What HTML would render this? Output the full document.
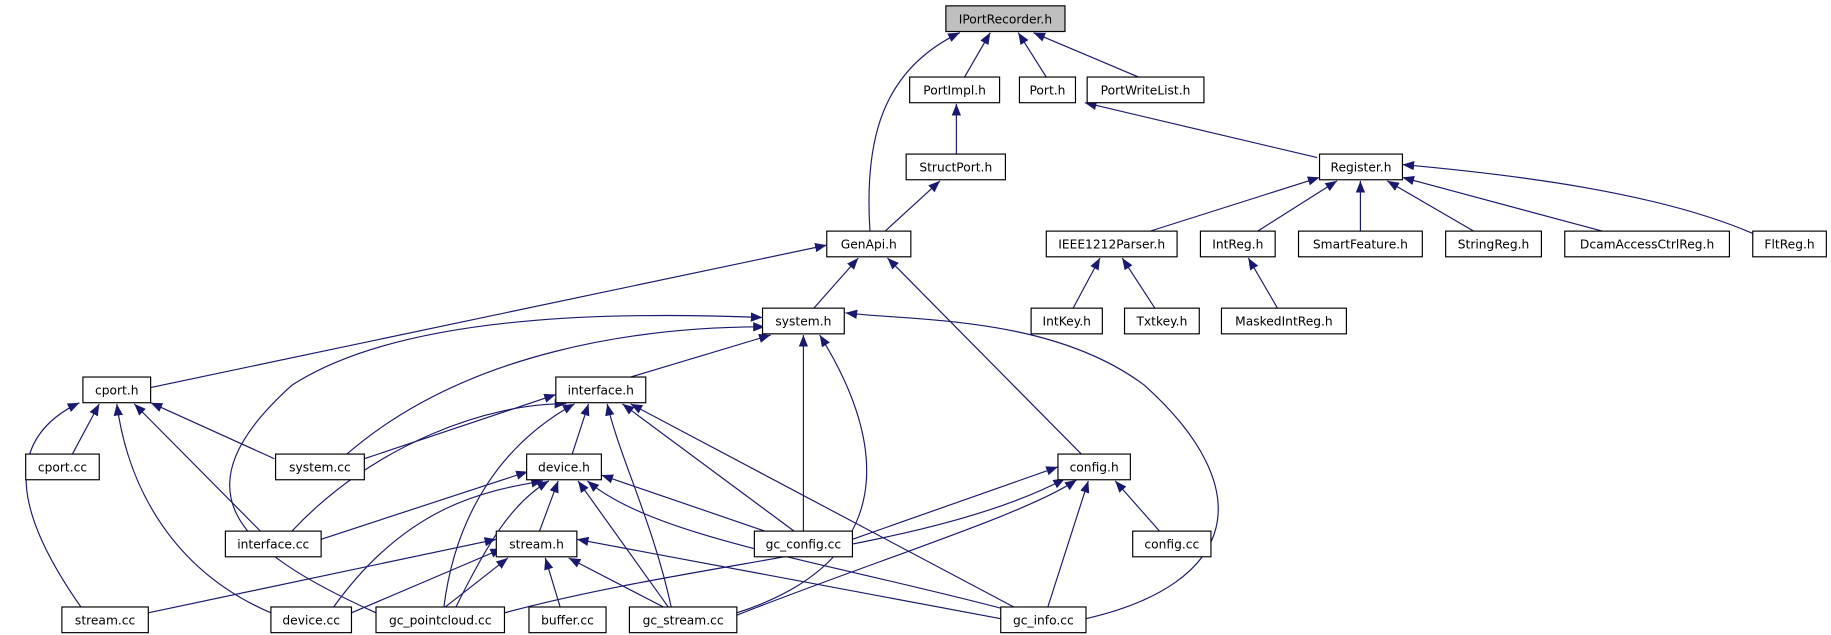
<!DOCTYPE html>
<html><head><meta charset="utf-8"><style>
html,body{margin:0;padding:0;background:#fff;}
svg{display:block;}
text{font-family:"DejaVu Sans","Liberation Sans",sans-serif;font-size:10.5px;fill:#000;}
</style></head><body>
<svg width="1831" height="635" viewBox="0 0 1568 544" preserveAspectRatio="none" xmlns="http://www.w3.org/2000/svg">
<defs>
<marker id="a" viewBox="0 0 10 10" refX="10" refY="5" markerWidth="10" markerHeight="10" markerUnits="userSpaceOnUse" orient="auto">
<path d="M0,1 L10,5 L0,9 z" fill="#191970"/>
</marker>
</defs>
<g fill="none" stroke="#191970" stroke-width="1" marker-end="url(#a)">
<path d="M745,198 C740,120 755,60 822,28"/>
<path d="M826,66 L848,28"/>
<path d="M896,66 L872,28"/>
<path d="M975,66 L885,28"/>
<path d="M819,132 L819,89"/>
<path d="M1128,135 L929,88"/>
<path d="M758,198 L805,155"/>
<path d="M985,198 L1130,152"/>
<path d="M1077,198 L1145,155"/>
<path d="M1165,198 L1165,155"/>
<path d="M1262,198 L1188,155"/>
<path d="M1372,198 L1201,152"/>
<path d="M1501,200 C1420,165 1300,150 1201,141"/>
<path d="M919,264 L942,221"/>
<path d="M989,264 L961,221"/>
<path d="M1094,264 L1069,221"/>
<path d="M697,264 L735,221"/>
<path d="M129,332 L708,210"/>
<path d="M926,389 L760,221"/>
<path d="M540,323 L660,287"/>
<path d="M688,455 L688,287"/>
<path d="M297,389 C400,300 550,280 655,280"/>
<path d="M322,525 C200,470 150,420 250,330 C350,265 550,268 653,272"/>
<path d="M631,525 C770,480 760,380 702,287"/>
<path d="M930,530 C1060,500 1080,420 980,330 C900,270 780,275 724,268"/>
<path d="M62,389 L85,346"/>
<path d="M235,393 L129,345"/>
<path d="M223,455 L115,346"/>
<path d="M70,521 C20,450 -5,380 68,345"/>
<path d="M232,525 C150,490 110,420 100,346"/>
<path d="M312,393 L476,338"/>
<path d="M250,455 C320,380 420,345 485,346"/>
<path d="M490,389 L504,346"/>
<path d="M380,521 C390,440 430,380 492,346"/>
<path d="M575,521 C560,450 530,390 520,346"/>
<path d="M680,455 L533,346"/>
<path d="M870,521 L540,346"/>
<path d="M275,462 L452,404"/>
<path d="M462,455 L478,412"/>
<path d="M285,521 C350,430 420,420 465,412"/>
<path d="M390,521 C420,460 440,430 470,412"/>
<path d="M655,455 L515,407"/>
<path d="M573,521 L495,412"/>
<path d="M857,521 C700,480 560,460 503,412"/>
<path d="M127,525 L425,462"/>
<path d="M301,525 L430,470"/>
<path d="M380,521 L435,478"/>
<path d="M480,521 L467,478"/>
<path d="M570,521 L487,478"/>
<path d="M857,530 L494,462"/>
<path d="M730,462 L906,400"/>
<path d="M432,525 C600,480 800,470 912,410"/>
<path d="M631,527 C750,480 880,440 922,411"/>
<path d="M897,521 L932,412"/>
<path d="M993,455 L955,412"/>
</g>
<g stroke="#000" stroke-width="1" fill="#fff">
<rect x="810" y="5" width="102" height="22" fill="#bfbfbf"/>
<rect x="779" y="66" width="77" height="22"/>
<rect x="873" y="66" width="48" height="22"/>
<rect x="931" y="66" width="100" height="22"/>
<rect x="776" y="132" width="85" height="22"/>
<rect x="1130" y="132" width="71" height="22"/>
<rect x="708" y="198" width="72" height="22"/>
<rect x="896" y="198" width="112" height="22"/>
<rect x="1028" y="198" width="64" height="22"/>
<rect x="1112" y="198" width="106" height="22"/>
<rect x="1238" y="198" width="82" height="22"/>
<rect x="1340" y="198" width="141" height="22"/>
<rect x="1501" y="198" width="63" height="22"/>
<rect x="883" y="264" width="61" height="22"/>
<rect x="963" y="264" width="64" height="22"/>
<rect x="1046" y="264" width="107" height="22"/>
<rect x="653" y="264" width="70" height="22"/>
<rect x="71" y="323" width="58" height="22"/>
<rect x="476" y="323" width="77" height="22"/>
<rect x="22" y="389" width="63" height="22"/>
<rect x="236" y="389" width="76" height="22"/>
<rect x="451" y="389" width="64" height="22"/>
<rect x="906" y="389" width="62" height="22"/>
<rect x="193" y="455" width="82" height="22"/>
<rect x="425" y="455" width="69" height="22"/>
<rect x="646" y="455" width="84" height="22"/>
<rect x="970" y="455" width="67" height="22"/>
<rect x="53" y="520" width="74" height="22"/>
<rect x="232" y="520" width="69" height="22"/>
<rect x="322" y="520" width="110" height="22"/>
<rect x="453" y="520" width="66" height="22"/>
<rect x="539" y="520" width="92" height="22"/>
<rect x="857" y="520" width="73" height="22"/>
</g>
<g text-anchor="middle">
<text x="861" y="20">IPortRecorder.h</text>
<text x="817.5" y="81">PortImpl.h</text>
<text x="897" y="81">Port.h</text>
<text x="981" y="81">PortWriteList.h</text>
<text x="818.5" y="147">StructPort.h</text>
<text x="1165.5" y="147">Register.h</text>
<text x="744" y="213">GenApi.h</text>
<text x="952" y="213">IEEE1212Parser.h</text>
<text x="1060" y="213">IntReg.h</text>
<text x="1165" y="213">SmartFeature.h</text>
<text x="1279" y="213">StringReg.h</text>
<text x="1410.5" y="213">DcamAccessCtrlReg.h</text>
<text x="1532.5" y="213">FltReg.h</text>
<text x="913.5" y="279">IntKey.h</text>
<text x="995" y="279">Txtkey.h</text>
<text x="1099.5" y="279">MaskedIntReg.h</text>
<text x="688" y="279">system.h</text>
<text x="100" y="338">cport.h</text>
<text x="514.5" y="338">interface.h</text>
<text x="53.5" y="404">cport.cc</text>
<text x="274" y="404">system.cc</text>
<text x="483" y="404">device.h</text>
<text x="937" y="404">config.h</text>
<text x="234" y="470">interface.cc</text>
<text x="459.5" y="470">stream.h</text>
<text x="688" y="470">gc_config.cc</text>
<text x="1003.5" y="470">config.cc</text>
<text x="90" y="535">stream.cc</text>
<text x="266.5" y="535">device.cc</text>
<text x="377" y="535">gc_pointcloud.cc</text>
<text x="486" y="535">buffer.cc</text>
<text x="585" y="535">gc_stream.cc</text>
<text x="893.5" y="535">gc_info.cc</text>
</g>
</svg>
</body></html>
